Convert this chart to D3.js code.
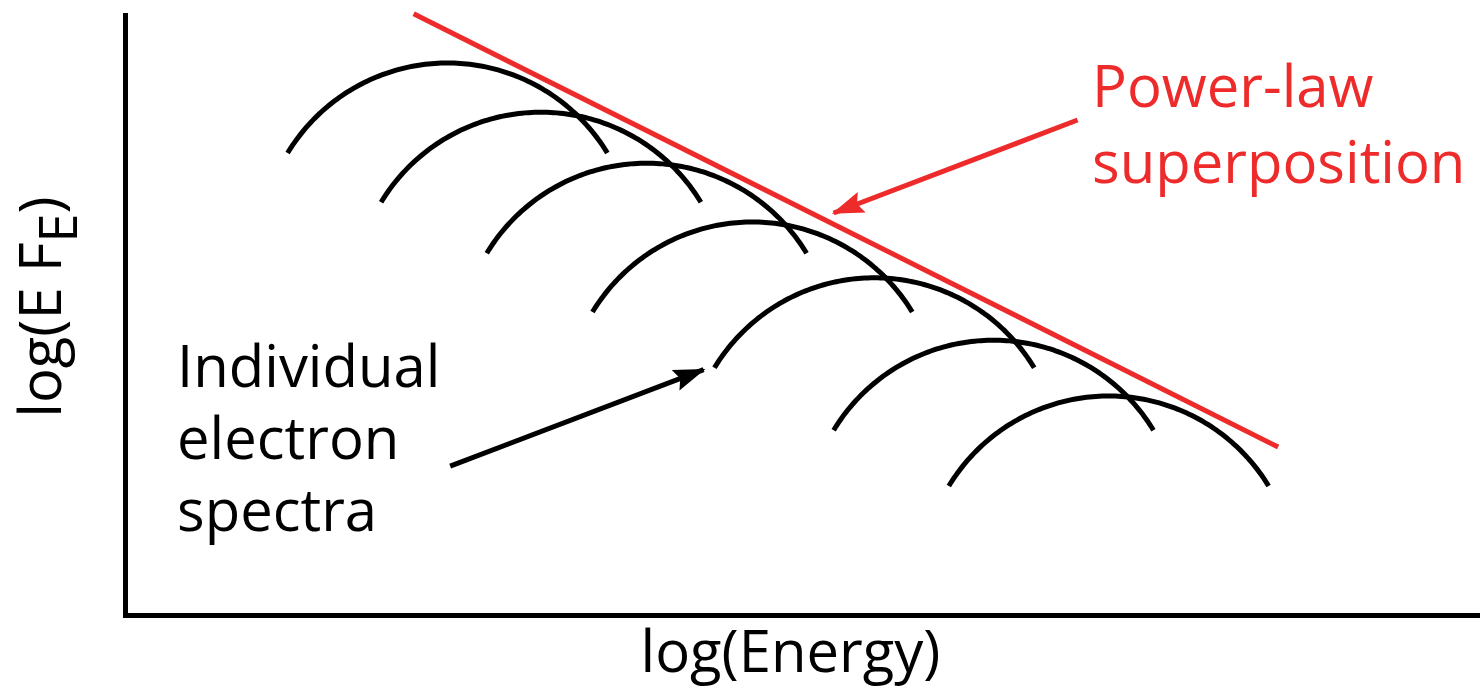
<!DOCTYPE html>
<html>
<head>
<meta charset="utf-8">
<script src="https://cdn.jsdelivr.net/npm/d3@7"></script>
<style>
  html, body { margin: 0; padding: 0; background: #ffffff; }
  svg { display: block; }
  text { font-family: "Open Sans", "Noto Sans", sans-serif; }
</style>
</head>
<body>
<svg id="chart" width="1480" height="694"></svg>
<script>
// ---- Data (arbitrary log units) ----
const spectrumNames = ["s1", "s2", "s3", "s4", "s5", "s6", "s7"];
const peakLogE = [2.38, 3.07, 3.85, 4.63, 5.53, 6.41, 7.26];
const peakLogF = [9.20, 8.38, 7.53, 6.55, 5.62, 4.58, 3.65];
const spectrumHalfWidth = 1.18;  // log E from peak to end of each arc
const spectrumDrop = 1.50;       // log F drop from peak to ends
const powerLawE = [2.13, 8.51];
const powerLawF = [10.02, 2.80];
const redArrowE = [7.03, 5.23];
const redArrowF = [8.25, 6.70];
const blackArrowE = [2.40, 4.27];
const blackArrowF = [2.48, 4.09];
const xLabel = "log(Energy)";
const yLabelMain = "log(E F";
const yLabelSub = "E";
const yLabelEnd = ")";
const redLabel = ["Power-law", "superposition"];
const blackLabel = ["Individual", "electron", "spectra"];

// ---- Layout ----
const W = 1480, H = 694;
const originX = 125, originY = 615, topY = 15;
const x = d3.scaleLinear().domain([0, 10]).range([originX, W]);
const y = d3.scaleLinear().domain([0, 10]).range([originY, topY]);
const RED = "#ee2b2b";
const SW = 5;

const svg = d3.select("#chart");

const defs = svg.append("defs");
function marker(id, color) {
  defs.append("marker")
    .attr("id", id)
    .attr("markerUnits", "userSpaceOnUse")
    .attr("viewBox", "0 -11 32 22")
    .attr("refX", 30).attr("refY", 0)
    .attr("markerWidth", 32).attr("markerHeight", 22)
    .attr("orient", "auto")
    .append("path")
    .attr("d", "M0,-11 L32,0 L0,11 L5,0 Z")
    .attr("fill", color);
}
marker("headBlack", "#000");
marker("headRed", RED);

// ---- Axes (plain lines, no ticks) ----
const xAxis = d3.axisBottom(x).tickValues([]).tickSizeOuter(0);
const yAxis = d3.axisLeft(y).tickValues([]).tickSizeOuter(0);
const gx = svg.append("g").attr("transform", `translate(0,${originY})`).call(xAxis);
const gy = svg.append("g").attr("transform", `translate(${originX},0)`).call(yAxis);
[gx, gy].forEach(g => g.select(".domain")
  .attr("stroke", "#000").attr("stroke-width", 5).attr("stroke-linecap", "square"));

// ---- Individual spectra (circular arcs through ends and peak) ----
const line = d3.line().x(d => d[0]).y(d => d[1]);
spectrumNames.forEach((name, i) => {
  const cx = x(peakLogE[i]);
  const ty = y(peakLogF[i]);
  const hw = x(peakLogE[i] + spectrumHalfWidth) - cx;
  const sag = y(peakLogF[i] - spectrumDrop) - ty;
  const R = (hw * hw + sag * sag) / (2 * sag);
  const cy = ty + R;
  const tMax = Math.asin(hw / R);
  const pts = d3.range(0, 121).map(k => {
    const t = -tMax + (2 * tMax) * k / 120;
    return [cx + R * Math.sin(t), cy - R * Math.cos(t)];
  });
  svg.append("path")
    .attr("class", "spectrum " + name)
    .attr("d", line(pts))
    .attr("fill", "none")
    .attr("stroke", "#000")
    .attr("stroke-width", SW);
});

// ---- Power-law line ----
svg.append("line")
  .attr("x1", x(powerLawE[0])).attr("y1", y(powerLawF[0]))
  .attr("x2", x(powerLawE[1])).attr("y2", y(powerLawF[1]))
  .attr("stroke", RED).attr("stroke-width", SW);

// ---- Arrows ----
svg.append("line")
  .attr("x1", x(redArrowE[0])).attr("y1", y(redArrowF[0]))
  .attr("x2", x(redArrowE[1])).attr("y2", y(redArrowF[1]))
  .attr("stroke", RED).attr("stroke-width", SW)
  .attr("marker-end", "url(#headRed)");
svg.append("line")
  .attr("x1", x(blackArrowE[0])).attr("y1", y(blackArrowF[0]))
  .attr("x2", x(blackArrowE[1])).attr("y2", y(blackArrowF[1]))
  .attr("stroke", "#000").attr("stroke-width", SW)
  .attr("marker-end", "url(#headBlack)");

// ---- Labels ----
const FS = 58;
const redText = svg.append("text").attr("fill", RED).attr("font-size", FS);
redLabel.forEach((t, i) => {
  redText.append("tspan").attr("x", 1092).attr("y", 107 + i * 76).text(t);
});
const blackText = svg.append("text").attr("fill", "#000").attr("font-size", FS);
blackLabel.forEach((t, i) => {
  blackText.append("tspan").attr("x", 177).attr("y", 387 + i * 72).text(t);
});

svg.append("text")
  .attr("x", (originX + W) / 2 - 12).attr("y", 672)
  .attr("text-anchor", "middle")
  .attr("font-size", FS)
  .text(xLabel);

const yl = svg.append("text")
  .attr("transform", `translate(61,307) rotate(-90)`)
  .attr("text-anchor", "middle")
  .attr("font-size", FS);
yl.append("tspan").text(yLabelMain);
yl.append("tspan").attr("font-size", FS * 0.9).attr("dy", 16).text(yLabelSub);
yl.append("tspan").attr("dy", -16).text(yLabelEnd);
</script>
</body>
</html>
